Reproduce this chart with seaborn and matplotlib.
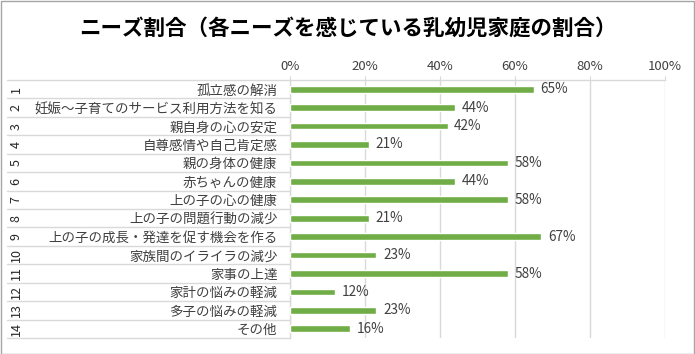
import numpy as np
import pandas as pd
import matplotlib
matplotlib.use("Agg")
import matplotlib.pyplot as plt
import seaborn as sns
from matplotlib.patches import Rectangle

# data
NUMBERS = [str(i) for i in range(1, 15)]
NEEDS = [
    "孤立感の解消",
    "妊娠～子育てのサービス利用方法を知る",
    "親自身の心の安定",
    "自尊感情や自己肯定感",
    "親の身体の健康",
    "赤ちゃんの健康",
    "上の子の心の健康",
    "上の子の問題行動の減少",
    "上の子の成長・発達を促す機会を作る",
    "家族間のイライラの減少",
    "家事の上達",
    "家計の悩みの軽減",
    "多子の悩みの軽減",
    "その他",
]
RATIO = [65, 44, 42, 21, 58, 44, 58, 21, 67, 23, 58, 12, 23, 16]
XTICKS = [0, 20, 40, 60, 80, 100]

TITLE = "ニーズ割合（各ニーズを感じている乳幼児家庭の割合）"
BAR_COLOR = "#70AD47"
GRID_COLOR = "#D9D9D9"
TEXT_COLOR = "#404040"

sns.set_theme(style="white")
plt.rcParams["font.family"] = ["Noto Sans CJK JP", "DejaVu Sans"]

df = pd.DataFrame({"need": NEEDS, "ratio": RATIO})

fig = plt.figure(figsize=(6.95, 3.54), dpi=100)
fig.patches.append(Rectangle((0.5 / 695, 0.5 / 354), 1 - 1.5 / 695, 1 - 1.5 / 354,
                             transform=fig.transFigure, fill=False,
                             edgecolor="#A6A6A6", linewidth=1.0))
ax = fig.add_axes([290 / 695, 1 - 338 / 354, 375 / 695, 258 / 354])

sns.barplot(data=df, x="ratio", y="need", orient="h", color=BAR_COLOR,
            width=0.36, saturation=1, ax=ax, zorder=3)

ax.set_xlim(0, 100)
ax.set_ylim(len(NEEDS) - 0.5, -0.5)
ax.set_xticks(XTICKS)
ax.set_xticklabels([f"{t}%" for t in XTICKS])
ax.xaxis.tick_top()
ax.tick_params(axis="x", top=True, length=3, width=0.8, color=GRID_COLOR,
               labelsize=9.5, labelcolor=TEXT_COLOR, pad=2)
ax.tick_params(axis="y", left=False, length=0, labelsize=9.7,
               labelcolor=TEXT_COLOR, pad=9)
ax.set_xlabel("")
ax.set_ylabel("")
ax.xaxis.grid(True, color=GRID_COLOR, linewidth=1.0, zorder=0)
ax.set_axisbelow(True)

for side in ["right", "bottom"]:
    ax.spines[side].set_visible(False)
for side in ["top", "left"]:
    ax.spines[side].set_color(GRID_COLOR)
    ax.spines[side].set_linewidth(1.0)

# value labels
for i, v in enumerate(RATIO):
    ax.text(v + 1.8, i, f"{v}%", va="center", ha="left",
            fontsize=9.8, color=TEXT_COLOR)

# category table lines and numbers
ytr = ax.get_yaxis_transform()
x_left = (7 - 290) / 375
for b in np.arange(-0.5, len(NEEDS), 1.0):
    ax.plot([x_left, 0], [b, b], transform=ytr, color=GRID_COLOR,
            linewidth=1.0, clip_on=False)
for i, n in enumerate(NUMBERS):
    ax.text((16 - 290) / 375, i, n, transform=ytr, rotation=90,
            va="center", ha="center", fontsize=9, color="#262626")

fig.text(0.5, 1 - 28 / 354, TITLE, ha="center", va="center",
         fontsize=15.5, fontweight="bold", color="black")

fig.savefig("out.png", dpi=100)
